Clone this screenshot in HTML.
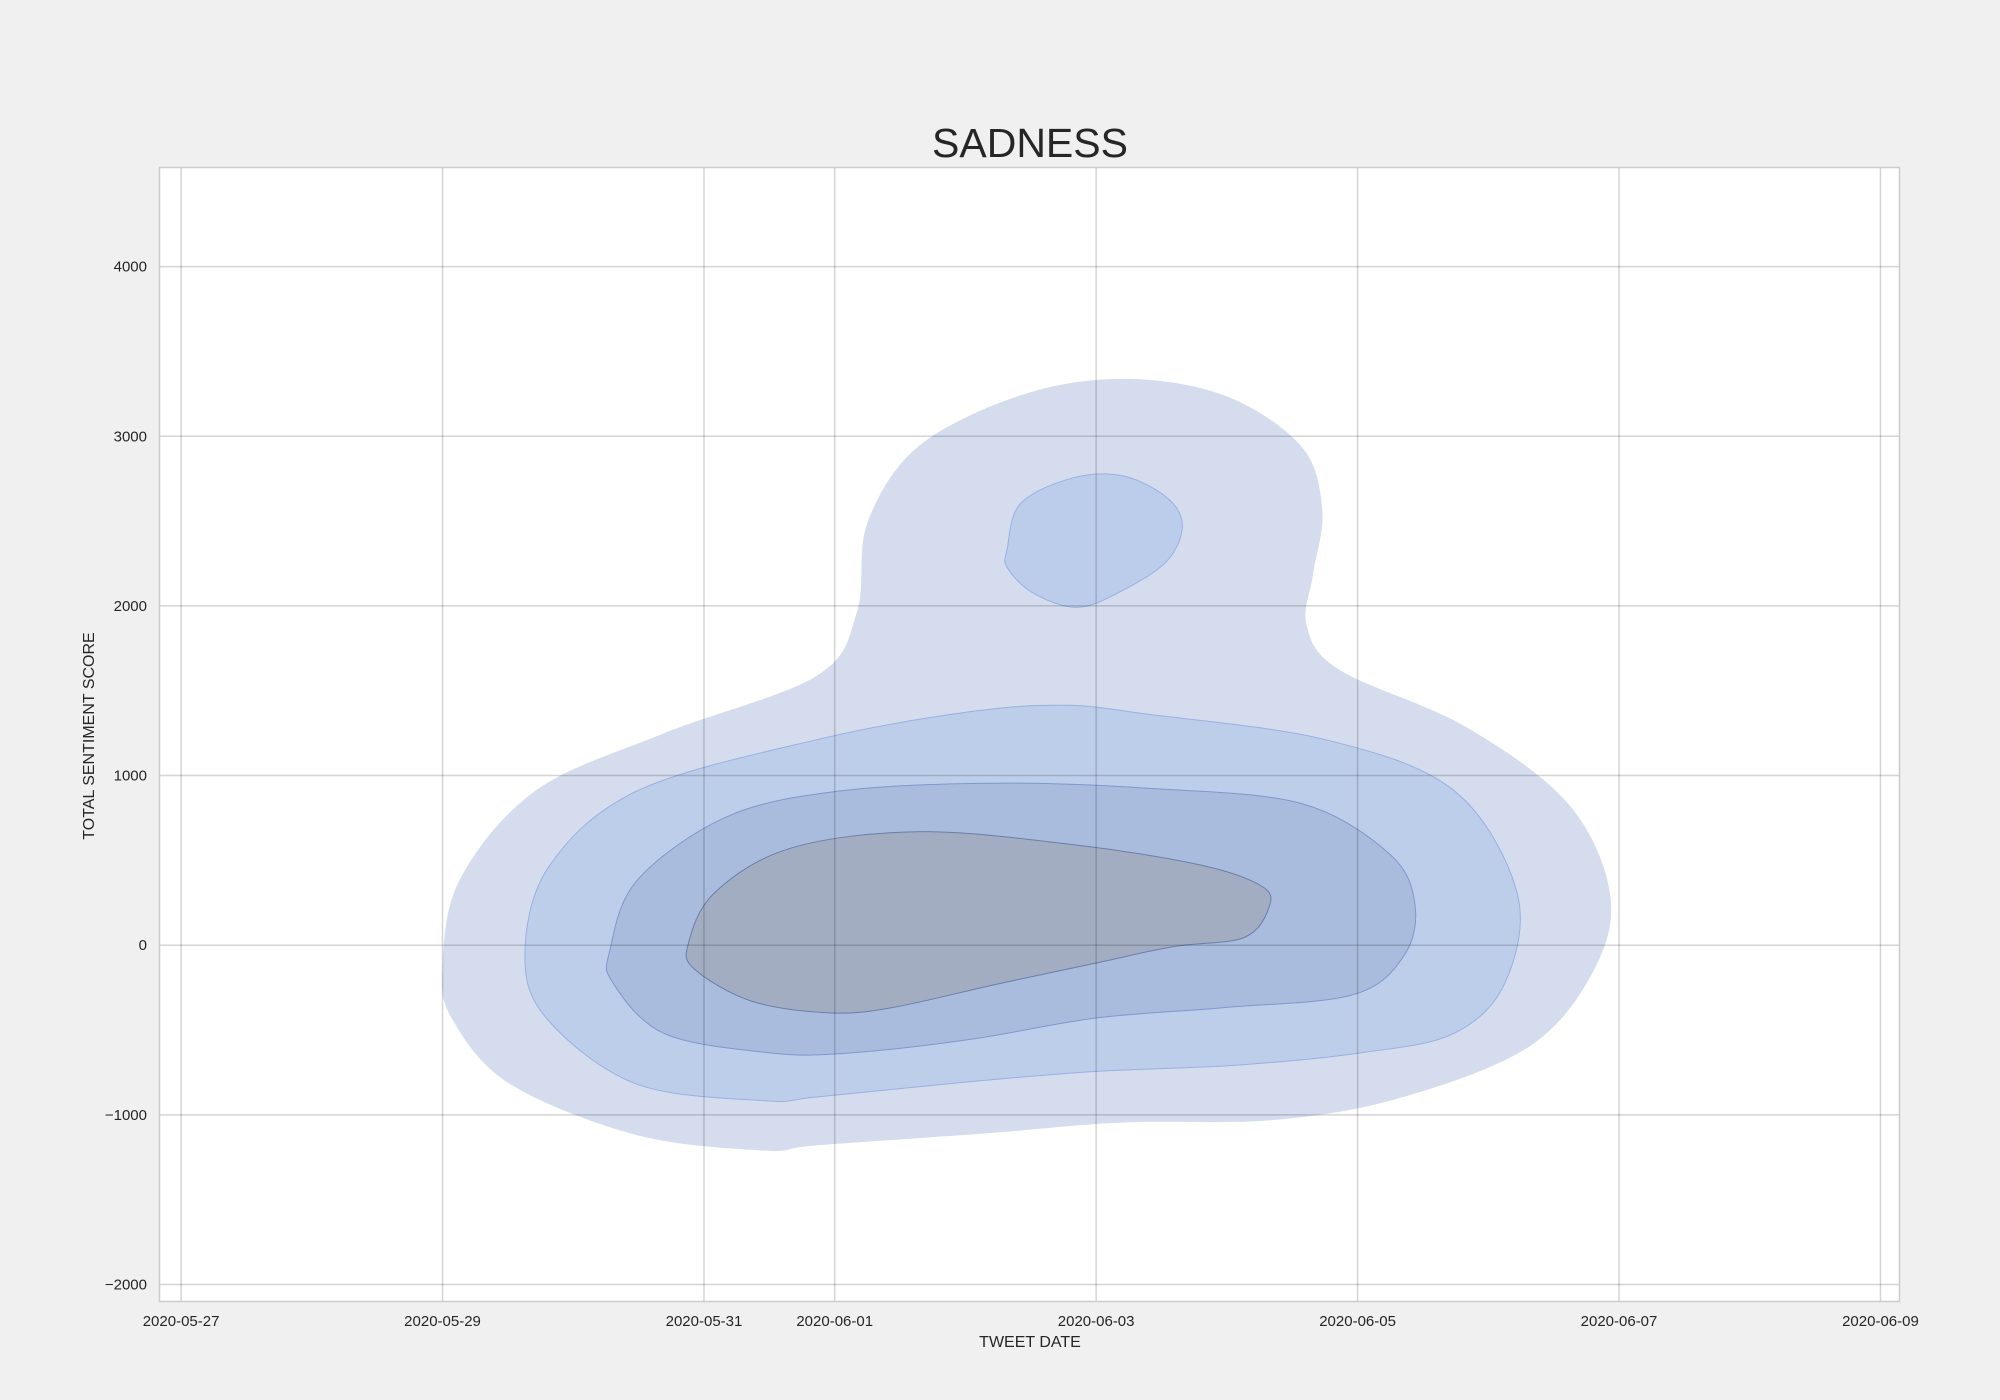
<!DOCTYPE html>
<html><head><meta charset="utf-8"><style>
html,body{margin:0;padding:0;background:#f0f0f0;}
svg{display:block;font-family:"Liberation Sans",sans-serif;}
</style></head><body>
<svg id="chart" width="2000" height="1400" viewBox="0 0 2000 1400">
<rect x="0" y="0" width="2000" height="1400" fill="#f0f0f0"/>
<rect x="159.5" y="167.5" width="1740" height="1134" fill="#ffffff"/>
<g id="contours"></g>
<g id="grid"></g>
<rect x="159.5" y="167.5" width="1740" height="1134" fill="none" stroke="#cccccc" stroke-width="1.5"/>
<g id="ticks"></g>
<text x="1030" y="157" font-size="41" fill="#262626" text-anchor="middle">SADNESS</text>
<text x="1030" y="1347" font-size="16" fill="#262626" text-anchor="middle">TWEET DATE</text>
<text x="94" y="736" font-size="16" fill="#262626" text-anchor="middle" transform="rotate(-90 94 736)">TOTAL SENTIMENT SCORE</text>
</svg>
<script>
// x values are days since 2020-05-27
const xTickDays = [0, 2, 4, 5, 7, 9, 11, 13];
const xTickLabels = ["2020-05-27","2020-05-29","2020-05-31","2020-06-01","2020-06-03","2020-06-05","2020-06-07","2020-06-09"];
const yTickValues = [-2000, -1000, 0, 1000, 2000, 3000, 4000];
const yTickLabels = ["\u22122000","\u22121000","0","1000","2000","3000","4000"];

const outerDays = [2.0,2.13,2.71,3.69,4.86,5.17,5.25,5.64,6.42,7.2,7.98,8.57,8.73,8.66,8.61,8.86,9.83,10.61,10.93,10.81,10.32,9.35,8.37,7.2,6.22,4.86,4.47,3.49,2.52,2.08];
const outerVals = [-143,383,910,1248,1587,1962,2489,2940,3241,3338,3241,2940,2564,2188,1887,1624,1286,835,308,-143,-594,-895,-1030,-1045,-1105,-1180,-1211,-1120,-820,-444];
const level2Days = [2.63,2.81,3.49,4.86,6.03,6.77,7.4,8.76,9.74,10.22,10.13,9.74,9.05,8.08,7.0,6.03,4.86,4.47,3.49,2.81];
const level2Vals = [-68,459,910,1211,1376,1414,1361,1211,910,308,-218,-519,-632,-707,-744,-805,-895,-917,-820,-444];
const level3Days = [3.28,3.49,4.18,5.05,6.22,7.4,8.57,9.25,9.44,9.35,8.96,7.98,7.0,6.03,5.05,4.47,3.69,3.3];
const level3Vals = [-30,383,759,910,955,925,835,534,233,-68,-293,-368,-429,-556,-639,-632,-519,-218];
const innerDays = [3.88,4.08,4.66,5.64,6.81,7.79,8.27,8.32,8.13,7.59,7.0,6.22,5.44,4.96,4.37,3.93];
const innerVals = [8,308,571,669,594,474,346,218,45,-8,-105,-233,-368,-399,-331,-143];
const peakDays = [6.32,6.42,6.81,7.2,7.54,7.66,7.54,7.2,6.86,6.52,6.32];
const peakVals = [2338,2602,2752,2767,2639,2474,2263,2090,1992,2075,2226];

const X0 = 181.1, XS = 130.72, Y0 = 945.2, YS = 0.16965;
function xScale(d){ return X0 + d*XS; }
function yScale(v){ return Y0 - v*YS; }
const NS = "http://www.w3.org/2000/svg";

function smoothPath(days, vals){
  const p = days.map((d,i)=>[xScale(d), yScale(vals[i])]);
  const n = p.length;
  let s = "M"+p[0][0].toFixed(1)+","+p[0][1].toFixed(1);
  for(let i=0;i<n;i++){
    const p0=p[(i-1+n)%n],p1=p[i],p2=p[(i+1)%n],p3=p[(i+2)%n];
    const c1=[p1[0]+(p2[0]-p0[0])/6,p1[1]+(p2[1]-p0[1])/6];
    const c2=[p2[0]-(p3[0]-p1[0])/6,p2[1]-(p3[1]-p1[1])/6];
    s+="C"+c1[0].toFixed(1)+","+c1[1].toFixed(1)+" "+c2[0].toFixed(1)+","+c2[1].toFixed(1)+" "+p2[0].toFixed(1)+","+p2[1].toFixed(1);
  }
  return s+"Z";
}
const cg = document.getElementById("contours");
function addContour(days, vals, fill, stroke, name){
  const el = document.createElementNS(NS,"path");
  el.setAttribute("d", smoothPath(days, vals));
  el.setAttribute("fill", fill);
  el.setAttribute("stroke", stroke);
  el.setAttribute("stroke-width", "1");
  
  
  cg.appendChild(el);
}
addContour(outerDays, outerVals, "#d4dcee", "none", "contour-level-1");
addContour(peakDays, peakVals, "#bccdec", "#9ab0e0", "contour-peak-upper");
addContour(level2Days, level2Vals, "#bdceeb", "#9ab0e0", "contour-level-2");
addContour(level3Days, level3Vals, "#a9bcdd", "#7f98cc", "contour-level-3");
addContour(innerDays, innerVals, "#a3adc2", "#6a7fa8", "contour-level-4");

const gg = document.getElementById("grid");
const tg = document.getElementById("ticks");
xTickDays.forEach((d,i)=>{
  const x = xScale(d);
  const l = document.createElementNS(NS,"line");
  l.setAttribute("x1",x); l.setAttribute("x2",x); l.setAttribute("y1",167.5); l.setAttribute("y2",1301.5);
  l.setAttribute("stroke","rgba(0,0,0,0.17)"); l.setAttribute("stroke-width","1.5");
  
  
  gg.appendChild(l);
  const t = document.createElementNS(NS,"text");
  t.setAttribute("x",x); t.setAttribute("y",1326); t.setAttribute("font-size","15");
  t.setAttribute("fill","#262626"); t.setAttribute("text-anchor","middle");
  t.textContent = xTickLabels[i];
  
  
  tg.appendChild(t);
});
yTickValues.forEach((v,i)=>{
  const y = yScale(v);
  const l = document.createElementNS(NS,"line");
  l.setAttribute("x1",159.5); l.setAttribute("x2",1899.5); l.setAttribute("y1",y); l.setAttribute("y2",y);
  l.setAttribute("stroke","rgba(0,0,0,0.17)"); l.setAttribute("stroke-width","1.5");
  
  
  gg.appendChild(l);
  const t = document.createElementNS(NS,"text");
  t.setAttribute("x",147); t.setAttribute("y",y+5); t.setAttribute("font-size","15");
  t.setAttribute("fill","#262626"); t.setAttribute("text-anchor","end");
  t.textContent = yTickLabels[i];
  
  
  tg.appendChild(t);
});
</script>
</body></html>
